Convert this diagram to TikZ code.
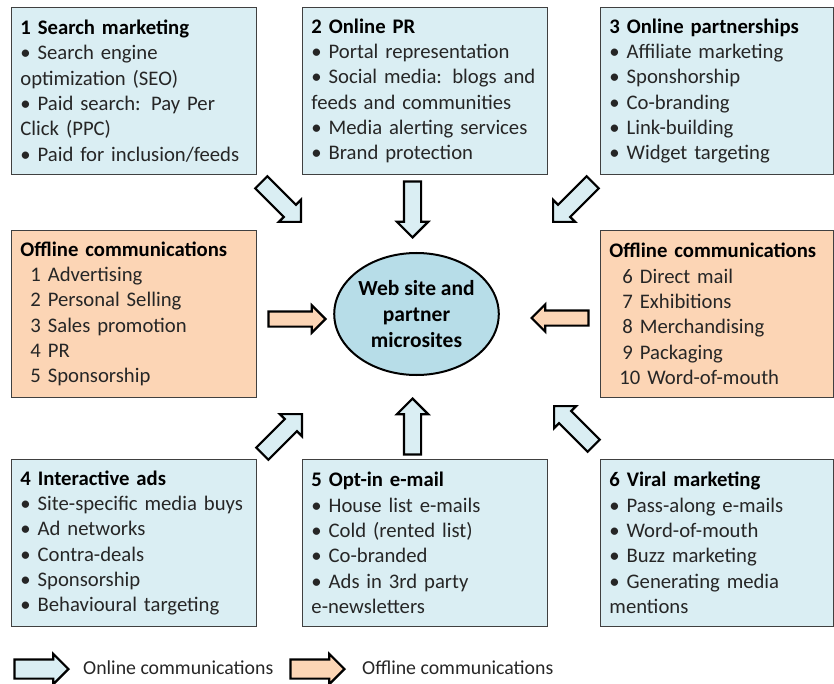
\documentclass[tikz,border=0pt]{standalone}
\usepackage{fontspec}
\setmainfont{Carlito}
\usetikzlibrary{shapes.arrows,shapes.geometric}
\definecolor{boxblue}{HTML}{DAEEF3}
\definecolor{boxorange}{HTML}{FCD5B5}
\definecolor{ellblue}{HTML}{B7DDE8}
\definecolor{txt}{HTML}{262626}
\definecolor{edgegray}{HTML}{404040}
\begin{document}
\begin{tikzpicture}[x=1pt,y=-1pt,
  font=\fontsize{20.7}{25.3}\selectfont,
  panel/.style={draw=edgegray, line width=0.9pt, anchor=north west,
    inner xsep=9pt, inner ysep=0pt, align=left, text=txt,
    minimum height=167pt},
  onpanel/.style={panel, fill=boxblue},
  offpanel/.style={panel, fill=boxorange},
  blk/.style={single arrow, draw=black, line width=2.2pt, anchor=tip,
    inner xsep=0pt, inner ysep=7.5pt, single arrow head extend=7pt,
    single arrow head indent=0pt, minimum height=56pt, fill=boxblue},
  oblk/.style={blk, fill=boxorange, inner ysep=6.5pt,
    single arrow head extend=6pt, minimum height=57pt},
  legarrow/.style={blk, inner ysep=8.5pt, single arrow head extend=5.5pt,
    minimum height=54pt},
  legtext/.style={anchor=west, text=txt, inner sep=0pt,
    font=\fontsize{19.8}{24}\selectfont}
]
\useasboundingbox (0,0) rectangle (834,684);
\newcommand{\hdg}[1]{\textbf{\color{black}#1}}
% top row
\node[onpanel, text width=227pt] (b1) at (11,7) {\hdg{1 Search marketing}\\
• Search engine\\
optimization (SEO)\\
• Paid search: Pay Per\\
Click (PPC)\\
• Paid for inclusion/feeds};
\node[onpanel, text width=227pt] (b2) at (302,7) {\hdg{2 Online PR}\\
• Portal representation\\
• Social media: blogs and\\
feeds and communities\\
• Media alerting services\\
• Brand protection};
\node[onpanel, text width=215pt] (b3) at (600,7) {\hdg{3 Online partnerships}\\
• Affiliate marketing\\
• Sponshorship\\
• Co-branding\\
• Link-building\\
• Widget targeting};
% middle row
\node[offpanel, text width=227pt] (o1) at (11,230) {\hdg{Offline communications}\\
\hspace*{10pt}1 Advertising\\
\hspace*{10pt}2 Personal Selling\\
\hspace*{10pt}3 Sales promotion\\
\hspace*{10pt}4 PR\\
\hspace*{10pt}5 Sponsorship};
\node[offpanel, text width=215pt] (o2) at (600,230) {\hdg{Offline communications}\\
\hspace*{13pt}6 Direct mail\\
\hspace*{13pt}7 Exhibitions\\
\hspace*{13pt}8 Merchandising\\
\hspace*{13pt}9 Packaging\\
\hspace*{10pt}10 Word-of-mouth};
\node[ellipse, draw=black, line width=2pt, fill=ellblue, minimum width=153pt,
  minimum height=122pt, align=center, inner sep=0pt,
  font=\fontsize{21.5}{26}\selectfont\bfseries] (web) at (416.5,314)
  {Web site and\\partner\\microsites};
% bottom row
\node[onpanel, text width=227pt] (b4) at (11,459) {\hdg{4 Interactive ads}\\
• Site-specific media buys\\
• Ad networks\\
• Contra-deals\\
• Sponsorship\\
• Behavioural targeting};
\node[onpanel, text width=227pt] (b5) at (302,459) {\hdg{5 Opt-in e-mail}\\
• House list e-mails\\
• Cold (rented list)\\
• Co-branded\\
• Ads in 3rd party\\
e-newsletters};
\node[onpanel, text width=215pt] (b6) at (600,459) {\hdg{6 Viral marketing}\\
• Pass-along e-mails\\
• Word-of-mouth\\
• Buzz marketing\\
• Generating media\\
mentions};
% block arrows
\node[blk, rotate=-45] (a1) at (302,223) {};
\node[blk, rotate=-90] (a2) at (412.5,239) {};
\node[blk, rotate=-135] (a3) at (552,223) {};
\node[oblk, rotate=0] (a4) at (327,319) {};
\node[oblk, rotate=180] (a5) at (530,318) {};
\node[blk, rotate=45] (a6) at (303,413) {};
\node[blk, rotate=90] (a7) at (412.5,397) {};
\node[blk, rotate=135] (a8) at (553,405) {};
% legend
\node[legarrow] (l1) at (70,669) {};
\node[legtext] (lt1) at (83,668) {Online communications};
\node[legarrow, fill=boxorange] (l2) at (346,669) {};
\node[legtext] (lt2) at (362,668) {Offline communications};
\end{tikzpicture}
\end{document}
